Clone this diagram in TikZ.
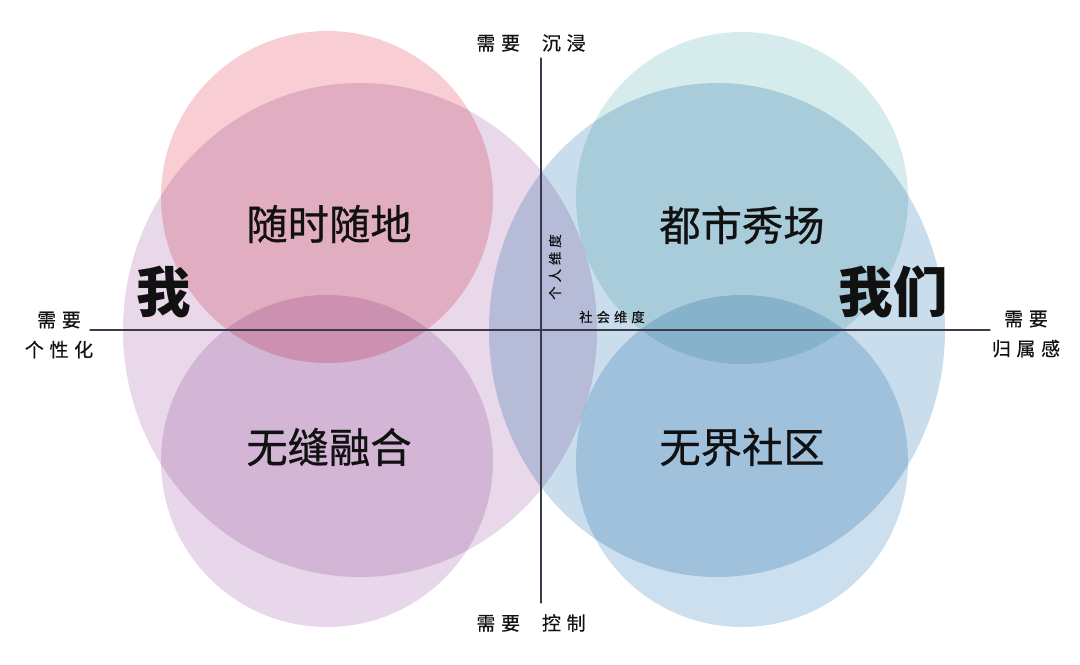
\documentclass[tikz,border=0pt]{standalone}
\usepackage{fontspec}
\newfontfamily\cjk[FakeBold=0.7]{Noto Sans CJK SC}
\newfontfamily\cjkbig{Noto Sans CJK SC}
\newfontfamily\cjksp[LetterSpace=30,FakeBold=0.5]{Noto Sans CJK SC}
\definecolor{pinkc}{RGB}{248,205,211}
\definecolor{lilac}{RGB}{232,216,234}
\definecolor{lilacb}{RGB}{232,214,234}
\definecolor{tealc}{RGB}{214,236,236}
\definecolor{bluec}{RGB}{201,221,236}
\definecolor{blueb}{RGB}{204,223,238}
\definecolor{axisc}{RGB}{58,58,74}
\definecolor{inkc}{RGB}{17,17,17}
\begin{document}
\begin{tikzpicture}[x=0.02cm,y=-0.02cm,line join=round,line cap=round]
	\tikzset{every node/.style={text=inkc,inner sep=1pt},
		axislabel/.style={font=\cjksp\fontsize{10.8}{17}\selectfont,align=center},
		quadlabel/.style={font=\cjk\fontsize{23.5}{28}\selectfont},
		biglabel/.style={font=\cjkbig\bfseries\fontsize{31}{36}\selectfont},
		dimlabel/.style={font=\cjksp\fontsize{7.6}{9}\selectfont}}
	\useasboundingbox (0,0) rectangle (1080,664);
	% overlapping circles
	\begin{scope}[blend group=multiply]
		\fill[lilac] (360,330) ellipse [x radius=237, y radius=247];
		\fill[bluec] (717,330) ellipse [x radius=228, y radius=247];
		\foreach \cx/\cy/\col in {327/197/pinkc,327/461/lilacb,742/198/tealc,742/461/blueb}
		\fill[\col] (\cx,\cy) circle [radius=166];
	\end{scope}
	% axes
	\coordinate (xl) at (90,330);
	\coordinate (xr) at (990,330);
	\coordinate (yt) at (541,58);
	\coordinate (yb) at (541,603);
	\draw[axisc,line width=0.7pt] (xl)--(xr);
	\draw[axisc,line width=0.7pt] (yt)--(yb);
	\node[axislabel] (top) at (531,43) {需要\hspace{12.5pt}沉浸};
	\node[axislabel] (bot) at (531,623) {需要\hspace{12.5pt}控制};
	\node[axislabel] (lft) at (59,335) {需要\\个性化};
	\node[axislabel] (rgt) at (1026,334) {需要\\归属感};
	% quadrants
	\node[quadlabel] (q1) at (329,224) {随时随地};
	\node[quadlabel] (q2) at (742,225) {都市秀场};
	\node[quadlabel] (q3) at (329,447) {无缝融合};
	\node[quadlabel] (q4) at (742,447) {无界社区};
	\node[biglabel] (me) at (164,292) {我};
	\node[biglabel] (us) at (893,292) {我们};
	\node[dimlabel,rotate=90] (dimp) at (555,267) {个人维度};
	\node[dimlabel] (dims) at (612,317) {社会维度};
\end{tikzpicture}
\end{document}
